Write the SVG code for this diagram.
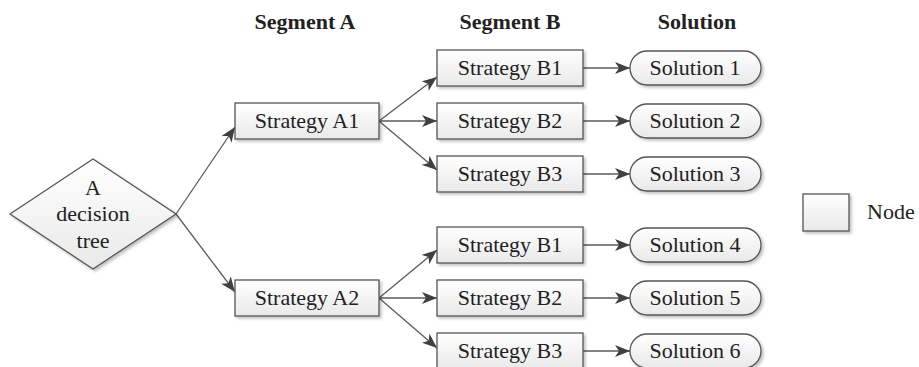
<svg xmlns="http://www.w3.org/2000/svg" width="919" height="367" viewBox="0 0 919 367">
  <defs>
    <linearGradient id="boxFill" x1="0" y1="0" x2="0" y2="1">
      <stop offset="0" stop-color="#ffffff"/>
      <stop offset="1" stop-color="#e9e9e9"/>
    </linearGradient>
    <filter id="shadow" x="-10%" y="-20%" width="130%" height="160%">
      <feGaussianBlur in="SourceAlpha" stdDeviation="1.5"/>
      <feOffset dx="2" dy="2" result="b"/>
      <feComponentTransfer><feFuncA type="linear" slope="0.25"/></feComponentTransfer>
      <feMerge><feMergeNode/><feMergeNode in="SourceGraphic"/></feMerge>
    </filter>
    <marker id="arrow" markerUnits="userSpaceOnUse" markerWidth="16" markerHeight="12" refX="15" refY="6" orient="auto">
      <path d="M0,0 L15,6 L0,12 L4,6 Z" fill="#404040"/>
    </marker>
  </defs>
  <style>
    .shape { fill: url(#boxFill); stroke: #555555; stroke-width: 1.3; filter: url(#shadow); }
    .label { font-size: 22px; fill: #222222; }
    .edge { stroke: #5a5a5a; stroke-width: 1.3; fill: none; marker-end: url(#arrow); }
  </style>
  <rect width="919" height="367" fill="#ffffff"/>

  <!-- column headings -->
  <g id="headings" text-anchor="middle">
    <text class="label" font-family="Liberation Serif" font-weight="bold" x="305" y="29">Segment A</text>
    <text class="label" font-family="Liberation Serif" font-weight="bold" x="510" y="29">Segment B</text>
    <text class="label" font-family="Liberation Serif" font-weight="bold" x="697" y="29">Solution</text>
  </g>

  <!-- connectors -->
  <g id="connectors">
    <line class="edge" x1="176" y1="214" x2="235" y2="127"/>
    <line class="edge" x1="176" y1="214" x2="235" y2="292"/>
    <line class="edge" x1="379" y1="121" x2="437" y2="77"/>
    <line class="edge" x1="379" y1="121" x2="437" y2="121"/>
    <line class="edge" x1="379" y1="121" x2="437" y2="170"/>
    <line class="edge" x1="379" y1="298" x2="437" y2="250"/>
    <line class="edge" x1="379" y1="298" x2="437" y2="298"/>
    <line class="edge" x1="379" y1="298" x2="437" y2="348"/>
    <line class="edge" x1="583" y1="68" x2="630" y2="68"/>
    <line class="edge" x1="583" y1="121" x2="630" y2="121"/>
    <line class="edge" x1="583" y1="174" x2="630" y2="174"/>
    <line class="edge" x1="583" y1="245" x2="630" y2="245"/>
    <line class="edge" x1="583" y1="298" x2="630" y2="298"/>
    <line class="edge" x1="583" y1="351" x2="630" y2="351"/>
  </g>

  <!-- root decision -->
  <g id="root" text-anchor="middle">
    <polygon class="shape" points="10,214 93,159 176,214 93,269"/>
    <text class="label" font-family="Liberation Serif" x="93" y="195">A</text>
    <text class="label" font-family="Liberation Serif" x="93" y="221">decision</text>
    <text class="label" font-family="Liberation Serif" x="93" y="248">tree</text>
  </g>

  <!-- segment A -->
  <g id="strategy-a1" text-anchor="middle">
    <rect class="shape" x="235" y="103" width="144" height="36"/>
    <text class="label" font-family="Liberation Serif" x="307" y="128">Strategy A1</text>
  </g>
  <g id="strategy-a2" text-anchor="middle">
    <rect class="shape" x="235" y="280" width="144" height="36"/>
    <text class="label" font-family="Liberation Serif" x="307" y="305">Strategy A2</text>
  </g>

  <!-- segment B -->
  <g id="strategy-a1-b1" text-anchor="middle">
    <rect class="shape" x="437" y="50" width="146" height="36"/>
    <text class="label" font-family="Liberation Serif" x="510" y="75">Strategy B1</text>
  </g>
  <g id="strategy-a1-b2" text-anchor="middle">
    <rect class="shape" x="437" y="103" width="146" height="36"/>
    <text class="label" font-family="Liberation Serif" x="510" y="128">Strategy B2</text>
  </g>
  <g id="strategy-a1-b3" text-anchor="middle">
    <rect class="shape" x="437" y="156" width="146" height="36"/>
    <text class="label" font-family="Liberation Serif" x="510" y="181">Strategy B3</text>
  </g>
  <g id="strategy-a2-b1" text-anchor="middle">
    <rect class="shape" x="437" y="227" width="146" height="36"/>
    <text class="label" font-family="Liberation Serif" x="510" y="252">Strategy B1</text>
  </g>
  <g id="strategy-a2-b2" text-anchor="middle">
    <rect class="shape" x="437" y="280" width="146" height="36"/>
    <text class="label" font-family="Liberation Serif" x="510" y="305">Strategy B2</text>
  </g>
  <g id="strategy-a2-b3" text-anchor="middle">
    <rect class="shape" x="437" y="333" width="146" height="36"/>
    <text class="label" font-family="Liberation Serif" x="510" y="358">Strategy B3</text>
  </g>

  <!-- solutions -->
  <g id="solution-1" text-anchor="middle">
    <rect class="shape" x="630" y="51" width="131" height="34" rx="17"/>
    <text class="label" font-family="Liberation Serif" x="695" y="75">Solution 1</text>
  </g>
  <g id="solution-2" text-anchor="middle">
    <rect class="shape" x="630" y="104" width="131" height="34" rx="17"/>
    <text class="label" font-family="Liberation Serif" x="695" y="128">Solution 2</text>
  </g>
  <g id="solution-3" text-anchor="middle">
    <rect class="shape" x="630" y="157" width="131" height="34" rx="17"/>
    <text class="label" font-family="Liberation Serif" x="695" y="181">Solution 3</text>
  </g>
  <g id="solution-4" text-anchor="middle">
    <rect class="shape" x="630" y="228" width="131" height="34" rx="17"/>
    <text class="label" font-family="Liberation Serif" x="695" y="252">Solution 4</text>
  </g>
  <g id="solution-5" text-anchor="middle">
    <rect class="shape" x="630" y="281" width="131" height="34" rx="17"/>
    <text class="label" font-family="Liberation Serif" x="695" y="305">Solution 5</text>
  </g>
  <g id="solution-6" text-anchor="middle">
    <rect class="shape" x="630" y="334" width="131" height="34" rx="17"/>
    <text class="label" font-family="Liberation Serif" x="695" y="358">Solution 6</text>
  </g>

  <!-- legend -->
  <g id="legend">
    <rect class="shape" x="803" y="194" width="46" height="37"/>
    <text class="label" font-family="Liberation Serif" x="867" y="219">Node</text>
  </g>
</svg>
